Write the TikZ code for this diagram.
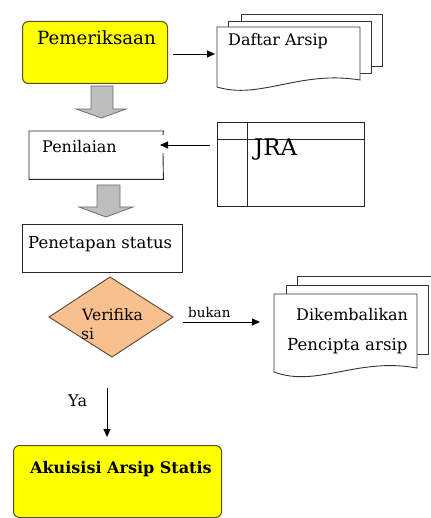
\documentclass[tikz,border=0pt]{standalone}
\usepackage{fontspec}
\setmainfont{DejaVu Serif}
\usetikzlibrary{arrows.meta,shapes.geometric}
\definecolor{ybox}{RGB}{255,255,0}
\definecolor{yline}{RGB}{85,80,30}
\definecolor{dfill}{RGB}{249,192,143}
\definecolor{dline}{RGB}{90,70,50}
\definecolor{gfill}{RGB}{190,190,190}
\definecolor{gline}{RGB}{110,110,110}
\begin{document}
\begin{tikzpicture}[x=1pt,y=-1pt,
  yellowbox/.style={draw=yline,fill=ybox,rounded corners=6pt,line width=1pt,inner sep=0pt},
  plainbox/.style={draw=black!85,line width=0.9pt,inner sep=0pt},
  docline/.style={draw=black!80,line width=0.9pt,line join=miter},
  arr/.style={draw=black,line width=0.9pt,-{Triangle[length=8pt,width=7pt]}},
  blockarr/.style={fill=gfill,draw=gline,line width=0.8pt},
  txt/.style={anchor=base west,inner sep=0pt,font=\fontsize{16}{18}\selectfont}]
\useasboundingbox (0,0) rectangle (430,518);

% Pemeriksaan
\node[yellowbox,anchor=north west,minimum width=145pt,minimum height=62pt] (pem) at (22,21) {};
\node[txt,font=\fontsize{18.2}{20}\selectfont] (pemT) at (37,45) {Pemeriksaan};

% Daftar Arsip (stacked documents)
\draw[docline] (241,21) -- (241,14) -- (382,14) -- (382,66) -- (371,66);
\draw[docline] (228,27) -- (228,21) -- (371,21) -- (371,73) -- (360,73);
\draw[docline,fill=white] (217,27) -- (217,87) .. controls (260,100) and (300,70) .. (360,80) -- (360,27) -- cycle;
\coordinate (daftarL) at (215,54);
\node[txt] (daftarT) at (228,46) {Daftar Arsip};
\draw[arr] (pem.east |- daftarL) ++(5,0) -- (daftarL);

% block arrow 1
\draw[blockarr] (91,86) -- (113,86) -- (113,109) -- (126,109) -- (101.5,118) -- (76,109) -- (91,109) -- cycle;

% Penilaian
\node[anchor=north west,minimum width=134pt,minimum height=48pt,inner sep=0pt] (pen) at (29,131) {};
\draw[plainbox] (163,135) -- (pen.north east) -- (pen.north west) -- (pen.south west) -- (pen.south east) -- (163,153);
\node[txt] (penT) at (42,153) {Penilaian};

% JRA
\node[plainbox,anchor=north west,minimum width=147pt,minimum height=84pt] (jra) at (217,122) {};
\draw[plainbox] (217,139) -- (364,139);
\draw[plainbox] (247,122) -- (247,206);
\node[txt,font=\fontsize{23}{25}\selectfont] (jraT) at (254,156) {JRA};
\coordinate (jraL) at (210,145);
\coordinate (penR) at (160,145);
\draw[arr] (jraL) -- (penR);

% block arrow 2
\draw[blockarr] (97,185) -- (120,185) -- (120,207) -- (133,207) -- (106,217) -- (79,207) -- (97,207) -- cycle;

% Penetapan status
\node[plainbox,anchor=north west,minimum width=160pt,minimum height=48pt] (pnt) at (22,224) {};
\node[txt,font=\fontsize{16.5}{18}\selectfont] (pntT) at (28,248) {Penetapan status};

% Verifikasi diamond
\draw[fill=dfill,draw=dline,line width=0.9pt] (49,317) -- (110,277) -- (173,317) -- (112,357) -- cycle;
\node[txt,font=\fontsize{15.6}{17}\selectfont] (verT) at (82,320) {Verifika};
\node[txt,font=\fontsize{15.6}{17}\selectfont] (siT) at (81,339) {si};

% bukan arrow
\coordinate (bukS) at (183,322);
\coordinate (bukE) at (260,322);
\draw[arr] (bukS) -- (bukE);
\node[txt,font=\fontsize{13.5}{15}\selectfont] (bukT) at (188,317) {bukan};

% Dikembalikan documents
\draw[docline] (297,285) -- (297,276) -- (432,276);
\draw[docline] (286,294) -- (286,285) -- (428,285) -- (428,354) -- (417,354);
\draw[docline,fill=white] (274,294) -- (274,372) .. controls (317,388) and (357,357) .. (417,368) -- (417,294) -- cycle;
\node[txt] (dikT) at (296,320) {Dikembalikan};
\node[txt,font=\fontsize{16.6}{18}\selectfont] (pcpT) at (287,350) {Pencipta arsip};

% Ya arrow
\coordinate (yaS) at (107,388);
\coordinate (yaE) at (107,437);
\draw[arr] (yaS) -- (yaE);
\node[txt,font=\fontsize{16}{18}\selectfont] (yaT) at (68,406) {Ya};

% Akuisisi Arsip Statis
\node[yellowbox,anchor=north west,minimum width=208pt,minimum height=72pt] (aku) at (13,445) {};
\node[txt,font=\fontsize{16}{18}\selectfont\bfseries] (akuT) at (30,473) {Akuisisi Arsip Statis};
\end{tikzpicture}
\end{document}
